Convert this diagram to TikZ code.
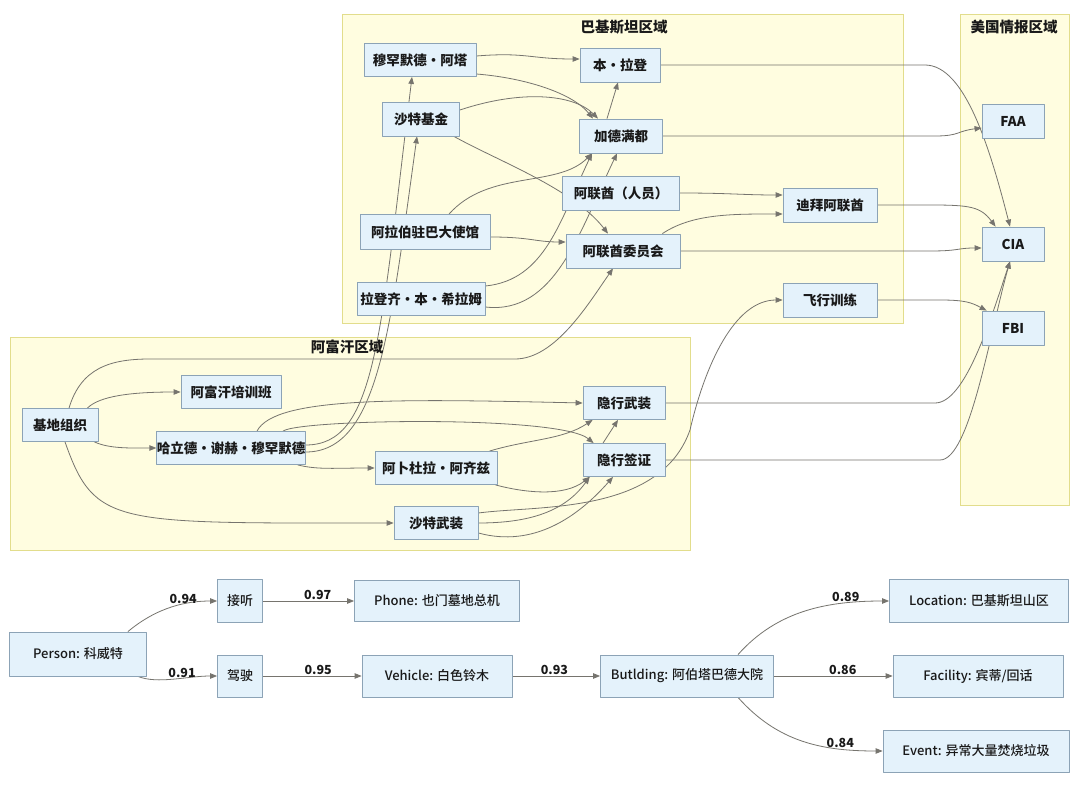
\documentclass[tikz,border=0pt]{standalone}
\usepackage{fontspec}
\setmainfont{Noto Sans CJK SC}
\newfontfamily\medfont{Noto Sans CJK SC Medium}
\usetikzlibrary{arrows.meta,calc}
\definecolor{zonefill}{RGB}{255,253,224}
\definecolor{zoneline}{RGB}{226,221,140}
\definecolor{boxfill}{RGB}{228,242,251}
\definecolor{boxline}{RGB}{140,163,182}
\definecolor{linkgray}{RGB}{118,116,110}
\pgfdeclarelayer{zone}
\pgfdeclarelayer{link}
\pgfsetlayers{zone,link,main}

\begin{document}
\begin{tikzpicture}[x=1pt,y=-1pt,line cap=round,line join=round,
	ent/.style={draw=boxline,fill=boxfill,line width=0.8pt,inner sep=0pt,text=black!90,font=\fontsize{13.5}{15}\selectfont\bfseries},
	obs/.style={ent,font=\fontsize{13}{15}\selectfont\medfont},
	zone/.style={draw=zoneline,fill=zonefill,line width=0.9pt},
	zonetitle/.style={inner sep=0pt,text=black!90,font=\fontsize{14.5}{16}\selectfont\bfseries},
	link/.style={draw=linkgray,line width=0.8pt,-{Triangle[length=7pt,width=5.5pt]}},
	score/.style={inner sep=0.5pt,text=black!90,font=\fontsize{12.5}{14}\selectfont\bfseries}]
	\useasboundingbox (0,0) rectangle (1080,789);
	\begin{pgfonlayer}{zone}
		\fill[white] (0,0) rectangle (1080,789);
		\draw[zone] (342,14) rectangle (903,323);
		\draw[zone] (960,14) rectangle (1069,505);
		\draw[zone] (10,337) rectangle (690,550);
	\end{pgfonlayer}
	\node[zonetitle] (pktitle) at (624,27) {巴基斯坦区域};
	\node[zonetitle] (ustitle) at (1014,27) {美国情报区域};
	\node[zonetitle] (aftitle) at (347,347) {阿富汗区域};
	\node[ent,minimum width=112pt,minimum height=33pt] (ata) at (420,60) {穆罕默德·阿塔};
	\node[ent,minimum width=80pt,minimum height=34pt] (bin) at (620,65) {本·拉登};
	\node[ent,minimum width=77pt,minimum height=34pt] (sfund) at (421,119) {沙特基金};
	\node[ent,minimum width=83pt,minimum height=34pt] (kath) at (621,136) {加德满都};
	\node[ent,minimum width=117pt,minimum height=34pt] (uaep) at (621,193) {阿联酋（人员）};
	\node[ent,minimum width=94pt,minimum height=34pt] (dubai) at (830,205) {迪拜阿联酋};
	\node[ent,minimum width=130pt,minimum height=35pt] (emb) at (425,232) {阿拉伯驻巴大使馆};
	\node[ent,minimum width=114pt,minimum height=34pt] (uaec) at (623,251) {阿联酋委员会};
	\node[ent,minimum width=128pt,minimum height=33pt] (radz) at (421,299) {拉登齐·本·希拉姆};
	\node[ent,minimum width=94pt,minimum height=34pt] (flight) at (830,300) {飞行训练};
	\node[ent,minimum width=62pt,minimum height=34pt] (faa) at (1013,121) {FAA};
	\node[ent,minimum width=62pt,minimum height=34pt] (cia) at (1013,244) {CIA};
	\node[ent,minimum width=62pt,minimum height=34pt] (fbi) at (1013,328) {FBI};
	\node[ent,minimum width=100pt,minimum height=33pt] (camp) at (231,392) {阿富汗培训班};
	\node[ent,minimum width=76pt,minimum height=33pt] (qaeda) at (60,425) {基地组织};
	\node[ent,minimum width=148pt,minimum height=33pt] (ksm) at (231,448) {哈立德·谢赫·穆罕默德};
	\node[ent,minimum width=122pt,minimum height=33pt] (aziz) at (436,468) {阿卜杜拉·阿齐兹};
	\node[ent,minimum width=82pt,minimum height=33pt] (sarm) at (624,403) {隐行武装};
	\node[ent,minimum width=82pt,minimum height=33pt] (svisa) at (624,460) {隐行签证};
	\node[ent,minimum width=84pt,minimum height=33pt] (saudi) at (436,523) {沙特武装};
	\node[obs,minimum width=137pt,minimum height=44pt] (kuwaiti) at (78,654) {Person: 科威特};
	\node[obs,minimum width=45pt,minimum height=43pt] (answer) at (240,601) {接听};
	\node[obs,minimum width=45pt,minimum height=42pt] (drive) at (240,676) {驾驶};
	\node[obs,minimum width=165pt,minimum height=41pt] (phone) at (437,601) {Phone: 也门墓地总机};
	\node[obs,minimum width=150pt,minimum height=42pt] (vehicle) at (437,676) {Vehicle: 白色铃木};
	\node[obs,minimum width=173pt,minimum height=42pt] (compound) at (687,676) {Butlding: 阿伯塔巴德大院};
	\node[obs,minimum width=179pt,minimum height=43pt] (loc) at (979,601) {Location: 巴基斯坦山区};
	\node[obs,minimum width=170pt,minimum height=42pt] (facil) at (978,676) {Facility: 宾蒂/回话};
	\node[obs,minimum width=186pt,minimum height=42pt] (event) at (976,751) {Event: 异常大量焚烧垃圾};
	\begin{pgfonlayer}{link}
		\draw[link] ($(ata.east)+(0,-4)$) .. controls +(50,-4) and +(-50,0) .. ($(bin.west)+(0,-6)$);
		\draw[link] ($(ata.east)+(0,14)$) .. controls +(50,4) and +(-20,-25) .. ($(kath.north)+(-28,0)$);
		\draw[link] ($(sfund.east)+(0,-9)$) .. controls +(60,-20) and +(-25,-25) .. ($(kath.north)+(-23,0)$);
		\draw[link] ($(kath.north)+(-14,0)$) -- ($(bin.south)+(-2,0)$);
		\draw[link] ($(emb.north)+(24,0)$) .. controls +(40,-45) and +(-35,35) .. ($(kath.south)+(-29,0)$);
		\draw[link] ($(emb.east)+(0,5)$) .. controls +(40,0) and +(-30,0) .. ($(uaec.west)+(0,-9)$);
		\draw[link] ($(sfund.south east)+(-6,0)$) .. controls +(45,25) and +(-35,-45) .. ($(uaec.north)+(-15,0)$);
		\draw[link] (uaep.east) .. controls +(50,0) and +(-40,0) .. ($(dubai.west)+(0,-10)$);
		\draw[link] ($(uaec.north east)+(-18,0)$) .. controls +(30,-20) and +(-50,0) .. ($(dubai.west)+(0,9)$);
		\draw[link] ($(radz.east)+(0,-13)$) .. controls +(60,-6) and +(-32,67) .. ($(kath.south)+(-29,0)$);
		\draw[link] ($(radz.east)+(0,8)$) .. controls +(70,8) and +(-37,77) .. ($(kath.south)+(-4,0)$);
		\draw[link] ($(ksm.east)+(0,-3)$) .. controls +(70,0) and +(-32,263) .. ($(ata.south)+(-8,0)$);
		\draw[link] ($(ksm.east)+(0,4)$) .. controls +(73,0) and +(-27,194) .. ($(sfund.south)+(-4,0)$);
		\draw[link] ($(ksm.north)+(26,0)$) .. controls +(18,-35) and +(-180,-4) .. (sarm.west);
		\draw[link] ($(ksm.north)+(52,0)$) .. controls +(17,-12) and +(-34,-28) .. ($(svisa.north west)+(11,0)$);
		\draw[link] ($(ksm.south east)+(-8,0)$) .. controls +(20,5) and +(-40,0) .. (aziz.west);
		\draw[link] ($(aziz.north east)+(-8,0)$) .. controls +(40,-12) and +(-30,20) .. ($(sarm.south west)+(10,0)$);
		\draw[link] ($(aziz.south east)+(-2,0)$) .. controls +(30,8) and +(-25,20) .. ($(svisa.south west)+(7,0)$);
		\draw[link] (saudi.east) .. controls +(50,0) and +(-25,35) .. ($(svisa.south west)+(7,0)$);
		\draw[link] ($(saudi.east)+(0,10)$) .. controls +(55,15) and +(-35,40) .. ($(svisa.south)+(-11,0)$);
		\draw[link] ($(svisa.north)+(-21,0)$) -- ($(sarm.south)+(-6,0)$);
		\draw[link] ($(saudi.east)+(0,-10)$) .. controls +(60,-8) and +(-30,85) .. (690,430) .. controls +(15,-65) and +(-48,0) .. (flight.west);
		\draw[link] ($(qaeda.north east)+(-11,0)$) .. controls +(12,-12) and +(-50,0) .. (camp.west);
		\draw[link] ($(qaeda.south east)+(-4,0)$) .. controls +(15,7) and +(-25,0) .. (ksm.west);
		\draw[link] ($(qaeda.south)+(5,0)$) .. controls +(30,85) and +(-280,0) .. (saudi.west);
		\draw[link] ($(qaeda.north)+(9,0)$) .. controls +(12,-40) and +(-40,0) .. (150,359) -- (515,359) .. controls +(40,0) and +(-25,36) .. ($(uaec.south)+(-10,0)$);
		\draw[link] (bin.east) -- (925,65) .. controls +(40,0) and +(-20,-78) .. ($(cia.north)+(-3,0)$);
		\draw[link] (kath.east) -- (935,136) .. controls +(25,0) and +(-25,3) .. ($(faa.west)+(0,7)$);
		\draw[link] (dubai.east) -- (930,205) .. controls +(40,0) and +(-15,-20) .. ($(cia.north west)+(14,0)$);
		\draw[link] (uaec.east) -- (930,251) .. controls +(30,0) and +(-25,0) .. ($(cia.west)+(0,4)$);
		\draw[link] (flight.east) -- (940,300) .. controls +(25,0) and +(-15,-8) .. ($(fbi.north west)+(5,0)$);
		\draw[link] (sarm.east) -- (935,403) .. controls +(30,0) and +(-20,60) .. ($(cia.south)+(-3,0)$);
		\draw[link] (svisa.east) -- (940,460) .. controls +(30,0) and +(-20,70) .. ($(cia.south)+(-3,0)$);
		\draw[link] ($(kuwaiti.north east)+(-19,0)$) .. controls +(30,-25) and +(-30,0) .. (answer.west) node[score,above,pos=0.62] {0.94};
		\draw[link] ($(kuwaiti.south east)+(-9,0)$) .. controls +(20,8) and +(-30,0) .. (drive.west) node[score,above,pos=0.6] {0.91};
		\draw[link] (answer.east) -- (phone.west) node[score,above,pos=0.6] {0.97};
		\draw[link] (drive.east) -- (vehicle.west) node[score,above,pos=0.56] {0.95};
		\draw[link] (vehicle.east) -- (compound.west) node[score,above,pos=0.48] {0.93};
		\draw[link] ($(compound.north)+(51,0)$) .. controls +(40,-45) and +(-60,0) .. (loc.west) node[score,above,pos=0.75] {0.89};
		\draw[link] (compound.east) -- (facil.west) node[score,above,pos=0.58] {0.86};
		\draw[link] ($(compound.south)+(51,0)$) .. controls +(40,45) and +(-60,0) .. (event.west) node[score,above,pos=0.75] {0.84};
	\end{pgfonlayer}
\end{tikzpicture}
\end{document}
